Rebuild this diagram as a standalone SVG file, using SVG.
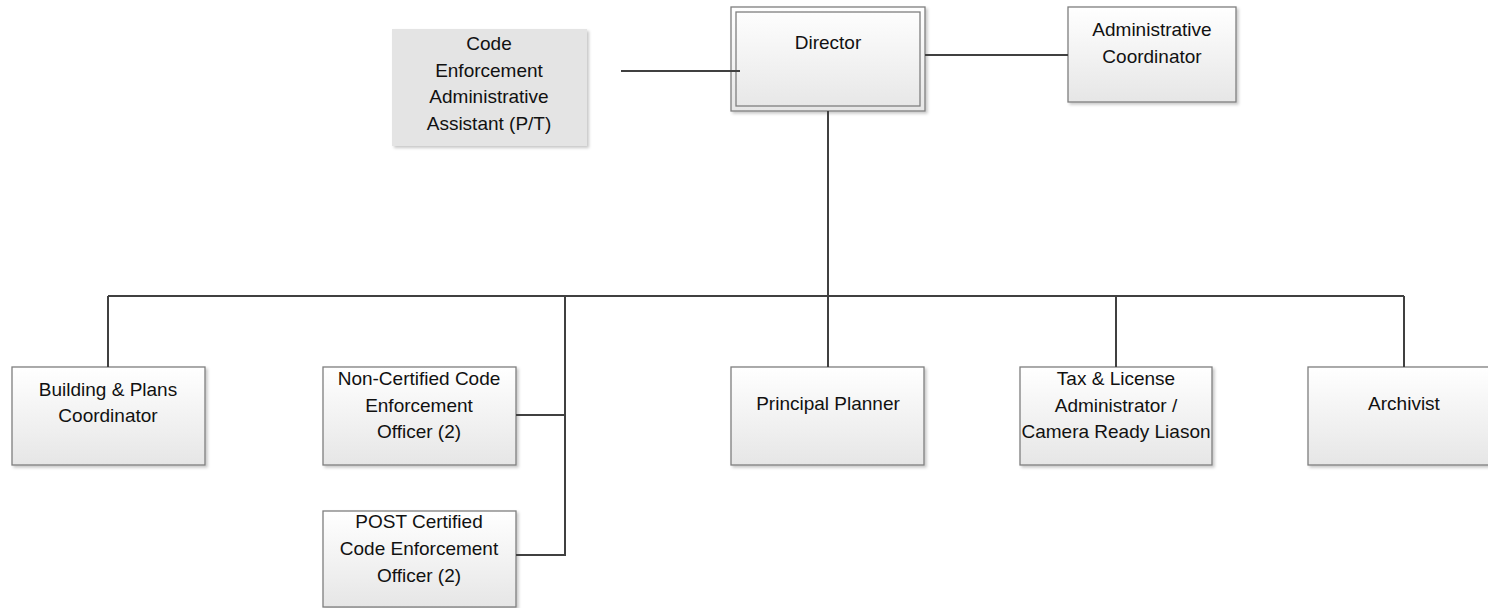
<svg xmlns="http://www.w3.org/2000/svg" width="1488" height="608" viewBox="0 0 1488 608">
  <defs>
    <linearGradient id="boxFill" x1="0" y1="0" x2="0" y2="1">
      <stop offset="0" stop-color="#ffffff"/>
      <stop offset="1" stop-color="#e6e6e6"/>
    </linearGradient>
    <filter id="shadow" x="-5%" y="-5%" width="115%" height="120%">
      <feDropShadow dx="2" dy="2" stdDeviation="1.5" flood-color="#000" flood-opacity="0.22"/>
    </filter>
  </defs>
  <style>
    .box { fill: url(#boxFill); stroke: #7f7f7f; stroke-width: 1.3; filter: url(#shadow); }
    .inner { fill: none; stroke: #7f7f7f; stroke-width: 1.3; }
    .plain { fill: #e4e4e4; stroke: none; filter: url(#shadow); }
    .lbl { font-family: "Liberation Sans", Arial, sans-serif; font-size: 19px; fill: #111; text-anchor: middle; }
    .wire { fill: none; stroke: #404040; stroke-width: 2; }
  </style>
  <rect width="1488" height="608" fill="#ffffff"/>

  <g id="code-enforcement-assistant">
    <rect class="plain" x="392" y="29" width="195" height="117"/>
    <text class="lbl" x="489" y="50">Code</text>
    <text class="lbl" x="489" y="76.5">Enforcement</text>
    <text class="lbl" x="489" y="103">Administrative</text>
    <text class="lbl" x="489" y="129.5">Assistant (P/T)</text>
  </g>

  <g id="director">
    <rect class="box" x="731" y="7" width="194" height="104"/>
    <rect class="inner" x="736" y="12" width="184" height="94"/>
    <text class="lbl" x="828" y="49">Director</text>
  </g>

  <g id="administrative-coordinator">
    <rect class="box" x="1068" y="7" width="168" height="95"/>
    <text class="lbl" x="1152" y="36">Administrative</text>
    <text class="lbl" x="1152" y="63">Coordinator</text>
  </g>

  <g id="building-plans-coordinator">
    <rect class="box" x="12" y="367" width="193" height="98"/>
    <text class="lbl" x="108" y="396">Building &amp; Plans</text>
    <text class="lbl" x="108" y="422">Coordinator</text>
  </g>

  <g id="non-certified-officer">
    <rect class="box" x="323" y="367" width="193" height="98"/>
    <text class="lbl" x="419" y="385">Non-Certified Code</text>
    <text class="lbl" x="419" y="412">Enforcement</text>
    <text class="lbl" x="419" y="438">Officer (2)</text>
  </g>

  <g id="post-certified-officer">
    <rect class="box" x="323" y="511" width="193" height="96"/>
    <text class="lbl" x="419" y="528">POST Certified</text>
    <text class="lbl" x="419" y="555">Code Enforcement</text>
    <text class="lbl" x="419" y="582">Officer (2)</text>
  </g>

  <g id="principal-planner">
    <rect class="box" x="731" y="367" width="193" height="98"/>
    <text class="lbl" x="828" y="410">Principal Planner</text>
  </g>

  <g id="tax-license-administrator">
    <rect class="box" x="1020" y="367" width="192" height="98"/>
    <text class="lbl" x="1116" y="385">Tax &amp; License</text>
    <text class="lbl" x="1116" y="412">Administrator /</text>
    <text class="lbl" x="1116" y="438">Camera Ready Liason</text>
  </g>

  <g id="archivist">
    <rect class="box" x="1308" y="367" width="193" height="98"/>
    <text class="lbl" x="1404" y="410">Archivist</text>
  </g>

  <!-- reporting lines, drawn over the box edges they meet -->
  <g id="connectors">
    <path class="wire" d="M621 71 H740"/>
    <path class="wire" d="M925 55 H1068"/>
    <path class="wire" d="M828 111 V367"/>
    <path class="wire" d="M108 296 H1404"/>
    <path class="wire" d="M108 296 V367"/>
    <path class="wire" d="M565 296 V555 H516"/>
    <path class="wire" d="M516 415 H565"/>
    <path class="wire" d="M1116 296 V367"/>
    <path class="wire" d="M1404 296 V367"/>
  </g>
</svg>
